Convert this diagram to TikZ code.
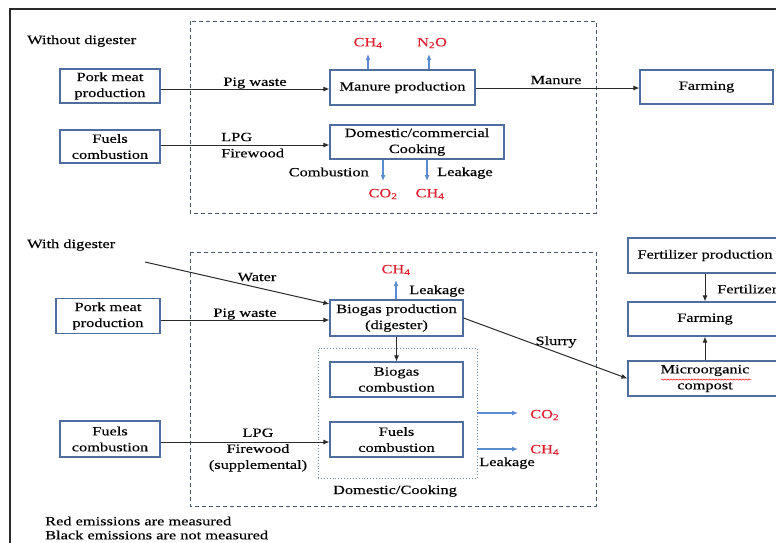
\documentclass[tikz,border=0pt]{standalone}
\usepackage{fontspec}
\setmainfont{Liberation Serif}[FakeStretch=1.3,FakeBold=0.3]
\usetikzlibrary{arrows.meta,decorations.pathmorphing}
\definecolor{boxblue}{HTML}{4F6E9E}
\definecolor{emblue}{HTML}{5B8BD0}
\definecolor{emred}{HTML}{E02030}
\definecolor{linegray}{HTML}{2A2A2A}
\definecolor{dashblue}{HTML}{4A5670}
\begin{document}
\begin{tikzpicture}[x=1pt,y=-1pt,
  every node/.style={font=\fontsize{12.6}{16}\selectfont, inner sep=0pt},
  box/.style={draw=boxblue, line width=1.1pt, fill=white, align=center},
  flow/.style={-{Latex[length=6pt,width=5pt]}, line width=1pt, draw=linegray},
  emi/.style={-{Latex[length=6pt,width=5pt]}, line width=1.2pt, draw=emblue},
  redtxt/.style={text=emred},
  lbl/.style={text=black},
  dashbox/.style={draw=dashblue, line width=0.9pt, dash pattern=on 4pt off 3pt},
  dotbox/.style={draw=boxblue!80, line width=0.9pt, dotted}]
\useasboundingbox (0,0) rectangle (776,542);
\fill[white] (0,0) rectangle (776,542);
% frame
\draw[line width=2.5pt, draw=linegray] (776,9) -- (10,9) -- (10,545);

% ===== Without digester =====
\node[anchor=west] (wo) at (27,41) {Without digester};
\draw[dashbox] (190,21) rectangle (596,213);

\node[box, minimum width=100, minimum height=34] (pork1) at (110,86) {Pork meat\\production};
\node[box, minimum width=100, minimum height=33] (fuel1) at (110,146.5) {Fuels\\combustion};
\node[box, minimum width=145, minimum height=35] (manure) at (402.5,87.5) {Manure production};
\node[box, minimum width=174, minimum height=34] (cook) at (417,142) {Domestic/commercial\\Cooking};
\node[box, minimum width=133, minimum height=34] (farm1) at (706.5,87) {Farming};

\draw[flow] (pork1.east |- 0,89) -- (manure.west |- 0,89);
\node[lbl] (pw1) at (255,83) {Pig waste};
\draw[flow] (fuel1.east |- 0,145) -- (cook.west |- 0,145);
\node[lbl, anchor=west] (lpg1) at (221,137) {LPG};
\node[lbl, anchor=west] (fw1) at (221,153) {Firewood};
\draw[flow] (manure.east |- 0,88) -- (farm1.west |- 0,88);
\node[lbl] (man) at (556,80) {Manure};

\node[redtxt] (ch4a) at (368,43) {CH\textsubscript{4}};
\node[redtxt] (n2o) at (432,43) {N\textsubscript{2}O};
\draw[emi] (manure.north -| ch4a) -- ([yshift=-11pt]ch4a.center);
\draw[emi] (manure.north -| 429,0) -- (429,54);

\node[redtxt] (co2a) at (383,194) {CO\textsubscript{2}};
\node[redtxt] (ch4b) at (430,194) {CH\textsubscript{4}};
\draw[emi] (cook.south -| co2a) -- ([yshift=13pt]co2a.center);
\draw[emi] (cook.south -| 427,0) -- (427,181);
\node[lbl, anchor=east] (comb1) at (369,172) {Combustion};
\node[lbl, anchor=west] (leak1) at (437,173) {Leakage};

% ===== With digester =====
\node[anchor=west] (wd) at (27,245) {With digester};
\draw[dashbox] (190,252) rectangle (596,506);

\node[box, minimum width=104, minimum height=35] (pork2) at (108,316) {Pork meat\\production};
\node[box, minimum width=100, minimum height=36] (fuel2) at (110,439) {Fuels\\combustion};
\node[box, minimum width=133, minimum height=36] (biogas) at (396.5,318) {Biogas production\\(digester)};
\node[dotbox, minimum width=159, minimum height=130] (dom) at (397.5,413) {};
\node[box, minimum width=133, minimum height=35] (bcomb) at (396.5,379.5) {Biogas\\combustion};
\node[box, minimum width=133, minimum height=35] (fcomb) at (396.5,439.5) {Fuels\\combustion};
\node[lbl] (domlbl) at (395,491) {Domestic/Cooking};

\coordinate (wsrc) at (145,262);
\draw[flow] (wsrc) -- ([yshift=14pt]biogas.west);
\node[lbl] (water) at (257,277) {Water};
\draw[flow] (pork2.east |- 0,320) -- (biogas.west |- 0,320);
\node[lbl] (pw2) at (245,314) {Pig waste};
\draw[flow] (fuel2.east |- 0,442) -- (fcomb.west |- 0,442);
\node[lbl, align=center] (lpg2) at (258,450) {LPG\\Firewood\\(supplemental)};

\node[redtxt] (ch4c) at (396,270) {CH\textsubscript{4}};
\draw[emi] (biogas.north -| ch4c) -- (396,280);
\node[lbl] (leak2) at (437,291) {Leakage};
\draw[flow] (biogas.south) -- (bcomb.north);

\node[redtxt, anchor=west] (co2b) at (530,415) {CO\textsubscript{2}};
\node[redtxt, anchor=west] (ch4d) at (530,450) {CH\textsubscript{4}};
\draw[emi] (dom.east |- 0,413) -- (518,413);
\draw[emi] (dom.east |- 0,449) -- (518,449);
\node[lbl] (leak3) at (507,463) {Leakage};

% right side
\node[box, minimum width=154, minimum height=35] (fert) at (705,255.5) {Fertilizer production};
\node[box, minimum width=154, minimum height=34] (farm2) at (705,319) {Farming};
\node[box, minimum width=154, minimum height=35] (comp) at (705,378.5) {Microorganic\\compost};
\draw[red, line width=0.5pt, decorate, decoration={snake, amplitude=0.6pt, segment length=3pt}] (661,379.5) -- (751,379.5);
\draw[flow] (fert.south) -- (farm2.north);
\node[lbl, anchor=west] (fertl) at (717,289) {Fertilizer};
\draw[flow] (comp.north) -- (farm2.south);
\draw[flow] (biogas.east) -- (comp.west);
\node[lbl] (slurry) at (556,342) {Slurry};

% notes
\node[anchor=west] (n1) at (45,521) {Red emissions are measured};
\node[anchor=west] (n2) at (45,535) {Black emissions are not measured};
\end{tikzpicture}
\end{document}
